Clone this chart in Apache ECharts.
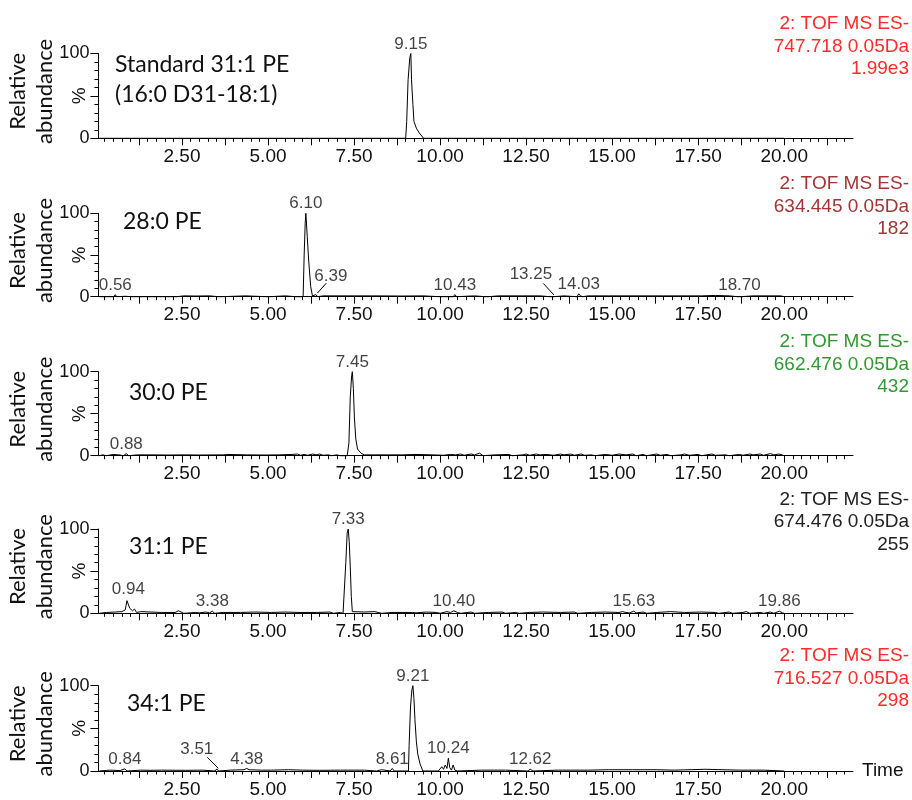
<!DOCTYPE html>
<html>
<head>
<meta charset="utf-8">
<script src="https://cdn.jsdelivr.net/npm/echarts@6/dist/echarts.min.js"></script>
<style>
  html, body { margin: 0; padding: 0; background: #fff; }
  #chart { width: 912px; height: 800px; }
</style>
</head>
<body>
<div id="chart"></div>
<script>
// Extracted-ion chromatograms: relative abundance (%) vs retention time (min)

const titles = ['Standard 31:1 PE\n(16:0 D31-18:1)', '28:0 PE', '30:0 PE', '31:1 PE', '34:1 PE'];

const channels = [
  ['2: TOF MS ES-', '747.718 0.05Da', '1.99e3'],
  ['2: TOF MS ES-', '634.445 0.05Da', '182'],
  ['2: TOF MS ES-', '662.476 0.05Da', '432'],
  ['2: TOF MS ES-', '674.476 0.05Da', '255'],
  ['2: TOF MS ES-', '716.527 0.05Da', '298']
];

// x-axis tick values (min)
const majorTicks = [1.25, 2.5, 3.75, 5, 6.25, 7.5, 8.75, 10, 11.25, 12.5, 13.75, 15, 16.25, 17.5, 18.75, 20, 21.25];
const tickLabels = [2.5, 5, 7.5, 10, 12.5, 15, 17.5, 20];

// traces: [time, relative abundance %]
const trace1 = [
  [0.10, 0], [9.00, 0], [9.03, 20], [9.07, 69], [9.12, 95], [9.15, 100], [9.17, 69], [9.21, 40],
  [9.24, 20], [9.31, 12], [9.40, 6], [9.52, 0], [15.00, 0], [15.05, 1.5], [15.10, 0], [20.00, 0]
];

const trace2 = [
  [0.10, 0], [0.30, 0], [0.35, 1], [0.40, 0], [0.52, 0], [0.56, 2.5], [0.60, 0], [0.85, 0.5], [1.05, 0],
  [1.10, 1], [1.15, 0], [2.25, 0], [2.30, 1.5], [2.35, 0], [2.55, 1], [2.60, 0], [2.90, 0.8], [2.95, 0],
  [3.30, 1], [3.35, 0], [3.55, 0], [3.60, 1.5], [3.65, 0], [4.35, 1], [4.40, 0], [4.95, 0], [5.00, 1],
  [5.05, 0], [5.50, 1], [5.55, 0], [5.80, 0], [5.85, 1.5], [5.90, 0], [6.02, 0], [6.05, 50], [6.08, 88],
  [6.10, 100], [6.14, 72], [6.18, 44], [6.24, 12], [6.29, 1], [6.34, 0], [6.39, 2.5], [6.44, 0],
  [6.60, 1], [6.65, 0], [7.30, 1], [7.35, 0], [8.00, 1], [8.05, 0], [8.90, 0.8], [8.95, 0], [9.50, 1],
  [9.55, 0], [10.00, 0], [10.05, 1.5], [10.10, 0], [10.38, 0], [10.43, 2.5], [10.48, 0], [11.00, 1],
  [11.05, 0], [11.30, 0], [11.35, 1.5], [11.40, 0], [11.70, 1], [11.75, 0], [12.40, 1], [12.45, 0],
  [12.90, 1], [12.95, 0], [13.20, 0], [13.25, 1.5], [13.30, 0], [13.60, 1], [13.65, 0], [13.98, 0],
  [14.03, 3.5], [14.08, 1], [14.15, 0], [14.30, 1], [14.35, 0], [14.90, 1], [14.95, 0], [15.40, 1],
  [15.45, 0], [15.90, 1], [15.95, 0], [16.50, 1], [16.55, 0], [17.20, 1], [17.25, 0], [17.60, 1],
  [17.65, 0], [18.00, 1.5], [18.05, 0], [18.40, 1], [18.45, 0], [18.65, 0], [18.70, 2], [18.75, 0],
  [19.10, 1], [19.15, 0], [19.50, 1], [19.55, 0], [19.90, 1], [20.00, 0]
];

const trace3 = [
  [0.10, 0], [0.20, 1], [0.30, 0], [0.50, 1.5], [0.55, 0], [0.70, 0.8], [0.80, 0], [0.88, 2.5], [0.95, 0],
  [1.20, 1], [1.25, 0], [1.60, 1], [1.65, 0], [2.10, 0.8], [2.15, 0], [2.60, 1], [2.65, 0], [3.00, 0.8],
  [3.05, 0], [3.70, 1], [3.80, 1.5], [3.85, 0], [4.40, 1], [4.45, 0], [4.95, 0.8], [5.00, 0], [5.30, 1],
  [5.35, 0], [5.70, 1.5], [5.75, 0.5], [5.85, 2], [5.95, 0.5], [6.05, 1.5], [6.15, 0.5], [6.30, 2],
  [6.40, 1], [6.50, 2], [6.60, 0.5], [6.75, 1], [6.85, 0], [7.00, 1], [7.10, 0], [7.30, 0], [7.35, 15],
  [7.39, 70], [7.43, 95], [7.45, 100], [7.48, 80], [7.51, 45], [7.55, 20], [7.60, 8], [7.70, 3],
  [7.80, 1], [7.85, 0], [8.10, 1], [8.15, 0], [8.50, 1], [8.55, 0], [8.90, 1], [8.95, 0], [9.30, 1.5],
  [9.35, 0], [9.80, 1], [9.85, 0], [10.10, 0.5], [10.30, 1.5], [10.45, 1], [10.60, 2], [10.70, 0.5],
  [10.90, 2], [11.00, 1], [11.15, 3], [11.25, 0], [11.60, 1], [11.65, 0], [12.00, 1.5], [12.10, 0],
  [12.40, 1], [12.50, 2], [12.60, 0.5], [12.80, 2], [12.90, 1], [13.10, 1.5], [13.30, 0.5], [13.50, 2],
  [13.60, 1], [13.80, 2], [13.90, 0.5], [14.10, 2], [14.20, 0.5], [14.40, 1], [14.50, 0], [14.80, 1.5],
  [15.00, 0.5], [15.20, 2], [15.40, 1], [15.60, 2], [15.70, 0], [15.90, 1.5], [16.00, 0], [16.30, 2],
  [16.40, 0.5], [16.60, 1.5], [16.70, 0], [17.00, 1], [17.10, 2], [17.25, 0.5], [17.50, 1.5], [17.60, 0],
  [17.90, 2], [18.00, 0.5], [18.30, 1], [18.40, 0], [18.70, 1.5], [18.80, 0.5], [19.00, 2], [19.10, 1],
  [19.30, 2], [19.40, 0.5], [19.60, 2.5], [19.70, 1], [19.85, 2], [20.00, 0]
];

const trace4 = [
  [0.10, 0], [0.30, 1], [0.35, 0], [0.55, 1.5], [0.60, 0], [0.75, 2], [0.80, 0.5], [0.85, 4], [0.90, 15],
  [0.94, 17], [0.98, 6], [1.02, 8], [1.06, 3], [1.12, 5], [1.18, 1], [1.30, 2], [1.35, 0], [1.60, 1.5],
  [1.65, 0], [1.90, 1], [1.95, 0], [2.30, 1], [2.40, 3], [2.45, 1], [2.55, 0], [2.90, 1], [3.00, 0.5],
  [3.20, 1.5], [3.30, 0.5], [3.38, 2.5], [3.45, 0], [3.70, 1], [3.75, 0], [4.20, 1], [4.25, 0],
  [4.60, 1.5], [4.65, 0], [5.10, 1], [5.15, 0], [5.50, 1.5], [5.55, 0], [5.90, 1], [5.95, 0], [6.40, 1],
  [6.45, 0], [6.80, 1.5], [6.90, 0], [7.10, 1], [7.18, 0], [7.22, 30], [7.26, 60], [7.30, 95],
  [7.33, 100], [7.36, 85], [7.39, 55], [7.42, 20], [7.45, 2], [7.50, 0], [7.80, 1.5], [7.85, 0],
  [8.10, 2], [8.20, 1], [8.30, 0], [8.60, 1], [8.65, 0], [9.20, 1], [9.30, 0.5], [9.60, 1.5], [9.65, 0],
  [9.90, 1], [10.00, 0], [10.20, 2], [10.30, 1], [10.40, 3], [10.50, 1], [10.60, 0], [10.90, 1.5],
  [11.00, 0], [11.40, 1], [11.45, 0], [11.80, 1.5], [11.90, 0], [12.20, 1], [12.30, 0], [12.60, 1],
  [12.65, 0], [13.00, 1.5], [13.05, 0], [13.50, 1], [13.55, 0], [13.90, 1.5], [14.00, 0], [14.40, 1],
  [14.45, 0], [14.80, 1.5], [14.85, 0], [15.20, 1], [15.30, 2], [15.40, 1], [15.50, 0.5], [15.63, 2.5],
  [15.70, 0.5], [15.90, 1.5], [16.00, 0], [16.30, 1], [16.35, 0], [16.70, 2], [16.75, 0], [17.10, 1],
  [17.15, 0], [17.60, 1.5], [17.65, 0], [18.00, 1], [18.10, 0], [18.40, 1.5], [18.50, 0], [18.80, 1],
  [18.90, 2], [19.00, 0], [19.30, 1], [19.40, 0], [19.60, 1.5], [19.70, 0], [19.86, 2.5], [19.95, 0.5],
  [20.00, 0]
];

const trace5 = [
  [0.10, 0], [0.40, 1], [0.45, 0], [0.70, 0.5], [0.84, 2.5], [0.90, 0], [1.30, 1], [1.35, 0], [1.60, 0.8],
  [1.65, 0], [1.90, 1], [1.95, 0], [2.60, 0.8], [2.65, 0], [3.10, 1], [3.15, 0], [3.46, 0], [3.51, 2.5],
  [3.56, 0], [3.90, 1], [3.95, 0], [4.30, 1.5], [4.38, 3], [4.45, 1.5], [4.50, 0], [4.80, 1], [4.85, 0],
  [5.10, 1], [5.15, 0], [5.60, 1.5], [5.65, 0], [6.00, 1], [6.05, 0], [6.50, 0.8], [6.55, 0], [7.10, 1],
  [7.15, 0], [7.80, 1], [7.85, 0], [8.15, 0], [8.20, 1.5], [8.30, 1.5], [8.35, 0], [8.55, 0], [8.61, 3],
  [8.67, 0], [9.08, 0], [9.10, 30], [9.14, 75], [9.18, 95], [9.21, 100], [9.24, 85], [9.27, 60],
  [9.31, 35], [9.35, 20], [9.42, 8], [9.50, 0], [9.95, 0], [10.00, 2], [10.05, 5], [10.10, 2],
  [10.15, 7], [10.20, 3], [10.24, 15], [10.28, 4], [10.33, 1], [10.38, 7], [10.43, 1], [10.50, 0],
  [11.20, 1], [11.25, 0], [11.90, 1], [11.95, 0], [12.55, 0], [12.62, 2], [12.70, 0], [13.40, 1],
  [13.45, 0], [14.30, 1], [14.35, 0], [14.90, 1.5], [15.00, 1.5], [15.05, 0], [15.60, 1.5], [15.65, 0],
  [16.30, 1.5], [16.35, 0], [16.80, 1], [16.85, 0], [17.70, 2], [17.75, 0], [18.70, 1], [18.75, 0],
  [19.40, 1], [19.45, 0], [20.00, 0]
];

// labelled retention times per trace
const peaks1 = [9.15];
const peaks2 = [0.56, 6.10, 6.39, 10.43, 13.25, 14.03, 18.70];
const peaks3 = [0.88, 7.45];
const peaks4 = [0.94, 3.38, 7.33, 10.40, 15.63, 19.86];
const peaks5 = [0.84, 3.51, 4.38, 8.61, 9.21, 10.24, 12.62];

const traces = [trace1, trace2, trace3, trace4, trace5];
const peaks = [peaks1, peaks2, peaks3, peaks4, peaks5];

// ---- layout & style ----
const plotLeft = 98.4, plotRight = 853;
const panelTop = [53.5, 213.3, 371.7, 529, 685.7];
const panelBottom = [138.3, 296.7, 455.7, 613.3, 771];
const timeMin = 0.07, timeMax = 22.0;
const channelColors = ['#ff2b2b', '#a33535', '#2f9a2f', '#222222', '#ff2b2b'];
const titlePos = [[115, 80], [123, 221.7], [129, 392.7], [129, 546.7], [127, 703.3]];
// labels set off to one side of their peak: label shift [dx, dy] and guide line ends (px from peak)
const leaderShift = [
  {},
  { '6.39': { label: [15, -9], line: [[1.5, -1.5], [10.5, -11.5]] },
    '13.25': { label: [-21, -12], line: [[2, -0.5], [-8.6, -12]] } },
  {},
  {},
  { '3.51': { label: [-20, -10], line: [[1.5, -0.6], [-9.5, -11.6]] } }
];

const minorTicks = [];
for (let k = 1; k * 0.25 < timeMax; k++) {
  const v = k * 0.25;
  if (Math.abs(v / 1.25 - Math.round(v / 1.25)) > 1e-6) minorTicks.push(v);
}

const FONT = 'Liberation Sans, Arial, sans-serif';
const CAL = 'Lato, "Open Sans", sans-serif';
const INK = '#111';

const grids = [], xAxes = [], yAxes = [], series = [], graphics = [];
const peakPoints = [];

for (let i = 0; i < 5; i++) {
  const top = panelTop[i], h = panelBottom[i] - panelTop[i];
  grids.push({ left: plotLeft, width: plotRight - plotLeft, top: top, height: h, containLabel: false });

  const isLast = i === 4;
  xAxes.push({
    type: 'value', gridIndex: i, min: timeMin, max: timeMax, position: 'bottom',
    axisLine: { show: true, onZero: false, lineStyle: { color: '#000', width: 1 } },
    axisTick: { show: true, length: 7, customValues: majorTicks, lineStyle: { color: '#000', width: 1 } },
    axisLabel: {
      show: true, customValues: tickLabels, margin: 9,
      formatter: v => v.toFixed(2), fontFamily: FONT, fontSize: 19, color: INK
    },
    splitLine: { show: false },
    name: isLast ? 'Time' : '', nameLocation: 'end', nameGap: 9,
    nameTextStyle: { fontFamily: FONT, fontSize: 19, color: INK, verticalAlign: 'middle' }
  });
  xAxes.push({
    type: 'value', gridIndex: i, min: timeMin, max: timeMax, position: 'bottom',
    axisLine: { show: false },
    axisTick: { show: true, length: 3.5, customValues: minorTicks, lineStyle: { color: '#000', width: 1 } },
    axisLabel: { show: false },
    splitLine: { show: false }
  });
  yAxes.push({
    type: 'value', gridIndex: i, min: 0, max: 100, interval: 50,
    axisLine: { show: true, lineStyle: { color: '#000', width: 1 } },
    axisTick: { show: true, length: 8, lineStyle: { color: '#000', width: 1 } },
    minorTick: { show: true, splitNumber: 5, length: 4, lineStyle: { color: '#000', width: 1 } },
    axisLabel: {
      formatter: v => (v === 50 ? '' : String(v)), margin: 9,
      fontFamily: FONT, fontSize: 18, color: INK
    },
    splitLine: { show: false }
  });

  series.push({
    type: 'line', xAxisIndex: 2 * i, yAxisIndex: i,
    data: traces[i], symbol: 'none', smooth: false, clip: false,
    lineStyle: { color: '#000', width: 1 }, silent: true, z: 3
  });

  const shifts = leaderShift[i];
  const pk = peaks[i].map(t => {
    const p = traces[i].find(d => Math.abs(d[0] - t) < 1e-9);
    return [t, p ? p[1] : 0];
  });
  peakPoints.push(pk);
  series.push({
    type: 'scatter', xAxisIndex: 2 * i, yAxisIndex: i,
    data: pk, symbol: 'circle', symbolSize: 0.1,
    itemStyle: { color: 'rgba(0,0,0,0)' }, silent: true, z: 4,
    label: {
      show: true, position: 'top', distance: 1,
      formatter: p => p.value[0].toFixed(2),
      fontFamily: FONT, fontSize: 17, color: INK
    },
    labelLayout: params => {
      const s = shifts[pk[params.dataIndex][0].toFixed(2)];
      return s ? { dx: s.label[0], dy: s.label[1] } : {};
    }
  });

  // rotated axis caption
  const midY = (panelTop[i] + panelBottom[i]) / 2;
  graphics.push({
    type: 'text', x: 31.5, y: midY - 4.5, rotation: Math.PI / 2,
    style: {
      text: 'Relative\nabundance', font: '22px ' + CAL, fill: INK,
      textAlign: 'center', textVerticalAlign: 'middle', lineHeight: 27
    }
  });
  graphics.push({
    type: 'text', x: 80, y: midY, rotation: Math.PI / 2,
    style: { text: '%', font: '19px ' + FONT, fill: INK, textAlign: 'center', textVerticalAlign: 'middle' }
  });
  // compound title
  graphics.push({
    type: 'text', x: titlePos[i][0], y: titlePos[i][1],
    style: {
      text: titles[i], font: '23px ' + CAL, fill: INK,
      textAlign: 'left', textVerticalAlign: 'middle', lineHeight: 30
    }
  });
  // channel description
  graphics.push({
    type: 'text', x: 909, y: panelTop[i] - 7,
    style: {
      text: channels[i].join('\n'), font: '19px ' + FONT, fill: channelColors[i],
      textAlign: 'right', textVerticalAlign: 'middle', lineHeight: 22.5
    }
  });
}

const chart = echarts.init(document.getElementById('chart'), null, { renderer: 'canvas' });
chart.setOption({
  animation: false,
  backgroundColor: '#fff',
  grid: grids,
  xAxis: xAxes,
  yAxis: yAxes,
  series: series
});

// guide lines for the side-set labels, anchored at the peak's position on the axes
for (let i = 0; i < 5; i++) {
  peakPoints[i].forEach(p => {
    const s = leaderShift[i][p[0].toFixed(2)];
    if (!s) return;
    const px = chart.convertToPixel({ xAxisIndex: 2 * i, yAxisIndex: i }, p);
    graphics.push({
      type: 'line', silent: true,
      shape: {
        x1: px[0] + s.line[0][0], y1: px[1] + s.line[0][1],
        x2: px[0] + s.line[1][0], y2: px[1] + s.line[1][1]
      },
      style: { stroke: '#000', lineWidth: 1 }
    });
  });
}
chart.setOption({ graphic: { elements: graphics } });
</script>
</body>
</html>
